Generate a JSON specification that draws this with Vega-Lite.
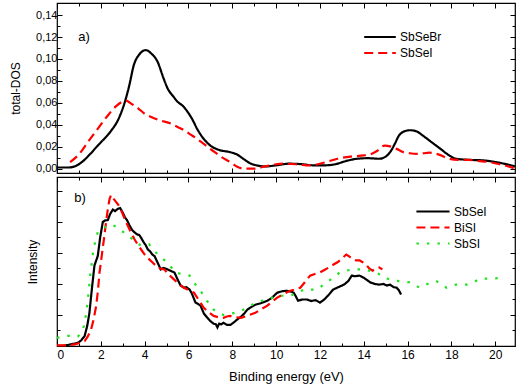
{
 "$schema": "https://vega.github.io/schema/vega-lite/v6.json",
 "padding": {"left": 8, "top": 1, "right": 1, "bottom": 2},
 "spacing": 0,
 "resolve": {"scale": {"color": "independent", "strokeDash": "independent"}, "legend": {"color": "independent", "strokeDash": "independent"}},
 "config": {
  "font": "Liberation Sans",
  "view": {"stroke": "#000", "strokeWidth": 1.2},
  "axis": {"domain": false, "grid": false, "tickColor": "#000", "tickWidth": 1, "labelColor": "#000", "labelFontSize": 11, "titleFontSize": 12, "titleFontWeight": "normal", "titleColor": "#000"}
 },
 "datasets": {
  "top": [
   {"s":"SbSeBr","x":0,"y":0.001},{"s":"SbSeBr","x":0.5,"y":0.001},{"s":"SbSeBr","x":0.8,"y":0.002},{"s":"SbSeBr","x":1.2,"y":0.007},{"s":"SbSeBr","x":1.5,"y":0.013},{"s":"SbSeBr","x":1.86,"y":0.021},{"s":"SbSeBr","x":2.1,"y":0.026},{"s":"SbSeBr","x":2.45,"y":0.034},{"s":"SbSeBr","x":2.8,"y":0.045},{"s":"SbSeBr","x":3.1,"y":0.061},{"s":"SbSeBr","x":3.3,"y":0.076},{"s":"SbSeBr","x":3.5,"y":0.094},{"s":"SbSeBr","x":3.75,"y":0.104},{"s":"SbSeBr","x":4.05,"y":0.108},{"s":"SbSeBr","x":4.3,"y":0.105},{"s":"SbSeBr","x":4.6,"y":0.097},{"s":"SbSeBr","x":4.85,"y":0.083},{"s":"SbSeBr","x":5.05,"y":0.073},{"s":"SbSeBr","x":5.3,"y":0.066},{"s":"SbSeBr","x":5.5,"y":0.061},{"s":"SbSeBr","x":5.75,"y":0.057},{"s":"SbSeBr","x":5.95,"y":0.052},{"s":"SbSeBr","x":6.2,"y":0.044},{"s":"SbSeBr","x":6.4,"y":0.036},{"s":"SbSeBr","x":6.7,"y":0.027},{"s":"SbSeBr","x":7.0,"y":0.021},{"s":"SbSeBr","x":7.4,"y":0.017},{"s":"SbSeBr","x":7.9,"y":0.015},{"s":"SbSeBr","x":8.2,"y":0.013},{"s":"SbSeBr","x":8.5,"y":0.009},{"s":"SbSeBr","x":8.8,"y":0.005},{"s":"SbSeBr","x":9.1,"y":0.003},{"s":"SbSeBr","x":9.5,"y":0.002},{"s":"SbSeBr","x":10.0,"y":0.003},{"s":"SbSeBr","x":10.6,"y":0.0045},{"s":"SbSeBr","x":11.2,"y":0.004},{"s":"SbSeBr","x":11.7,"y":0.003},{"s":"SbSeBr","x":12.2,"y":0.003},{"s":"SbSeBr","x":12.7,"y":0.004},{"s":"SbSeBr","x":13.2,"y":0.007},{"s":"SbSeBr","x":13.7,"y":0.009},{"s":"SbSeBr","x":14.2,"y":0.0095},{"s":"SbSeBr","x":14.7,"y":0.009},{"s":"SbSeBr","x":15.0,"y":0.011},{"s":"SbSeBr","x":15.2,"y":0.015},{"s":"SbSeBr","x":15.4,"y":0.022},{"s":"SbSeBr","x":15.6,"y":0.03},{"s":"SbSeBr","x":15.85,"y":0.034},{"s":"SbSeBr","x":16.1,"y":0.035},{"s":"SbSeBr","x":16.4,"y":0.034},{"s":"SbSeBr","x":16.7,"y":0.03},{"s":"SbSeBr","x":17.1,"y":0.024},{"s":"SbSeBr","x":17.5,"y":0.018},{"s":"SbSeBr","x":17.9,"y":0.012},{"s":"SbSeBr","x":18.2,"y":0.009},{"s":"SbSeBr","x":18.8,"y":0.008},{"s":"SbSeBr","x":19.45,"y":0.0075},{"s":"SbSeBr","x":20.0,"y":0.006},{"s":"SbSeBr","x":20.4,"y":0.0045},{"s":"SbSeBr","x":20.9,"y":0.002},
   {"s":"SbSeI","x":0.6,"y":0.006},{"s":"SbSeI","x":1.0,"y":0.013},{"s":"SbSeI","x":1.4,"y":0.024},{"s":"SbSeI","x":1.85,"y":0.036},{"s":"SbSeI","x":2.3,"y":0.048},{"s":"SbSeI","x":2.7,"y":0.057},{"s":"SbSeI","x":3.15,"y":0.062},{"s":"SbSeI","x":3.4,"y":0.059},{"s":"SbSeI","x":3.7,"y":0.055},{"s":"SbSeI","x":4.0,"y":0.05},{"s":"SbSeI","x":4.3,"y":0.047},{"s":"SbSeI","x":4.7,"y":0.044},{"s":"SbSeI","x":5.2,"y":0.041},{"s":"SbSeI","x":5.5,"y":0.038},{"s":"SbSeI","x":5.8,"y":0.035},{"s":"SbSeI","x":6.1,"y":0.031},{"s":"SbSeI","x":6.4,"y":0.027},{"s":"SbSeI","x":6.8,"y":0.021},{"s":"SbSeI","x":7.2,"y":0.015},{"s":"SbSeI","x":7.55,"y":0.01},{"s":"SbSeI","x":7.9,"y":0.006},{"s":"SbSeI","x":8.2,"y":0.002},{"s":"SbSeI","x":8.5,"y":0.0},{"s":"SbSeI","x":9.0,"y":0.0},{"s":"SbSeI","x":9.5,"y":0.002},{"s":"SbSeI","x":10.0,"y":0.004},{"s":"SbSeI","x":10.4,"y":0.0045},{"s":"SbSeI","x":10.9,"y":0.004},{"s":"SbSeI","x":11.4,"y":0.003},{"s":"SbSeI","x":11.9,"y":0.004},{"s":"SbSeI","x":12.3,"y":0.006},{"s":"SbSeI","x":12.8,"y":0.009},{"s":"SbSeI","x":13.4,"y":0.011},{"s":"SbSeI","x":14.0,"y":0.012},{"s":"SbSeI","x":14.3,"y":0.013},{"s":"SbSeI","x":14.6,"y":0.016},{"s":"SbSeI","x":14.95,"y":0.021},{"s":"SbSeI","x":15.25,"y":0.02},{"s":"SbSeI","x":15.5,"y":0.018},{"s":"SbSeI","x":15.8,"y":0.015},{"s":"SbSeI","x":16.1,"y":0.014},{"s":"SbSeI","x":16.5,"y":0.0135},{"s":"SbSeI","x":17.0,"y":0.0145},{"s":"SbSeI","x":17.4,"y":0.013},{"s":"SbSeI","x":17.9,"y":0.009},{"s":"SbSeI","x":18.3,"y":0.008},{"s":"SbSeI","x":18.8,"y":0.008},{"s":"SbSeI","x":19.2,"y":0.007},{"s":"SbSeI","x":19.7,"y":0.006},{"s":"SbSeI","x":20.2,"y":0.004},{"s":"SbSeI","x":20.6,"y":0.002},{"s":"SbSeI","x":20.9,"y":0.0}
  ],
  "bot": [
   {"s":"SbSeI","x":0,"y":0},{"s":"SbSeI","x":0.35,"y":0.01},{"s":"SbSeI","x":0.6,"y":0.05},{"s":"SbSeI","x":0.95,"y":0.1},{"s":"SbSeI","x":1.1,"y":0.18},{"s":"SbSeI","x":1.26,"y":0.32},{"s":"SbSeI","x":1.38,"y":0.65},{"s":"SbSeI","x":1.48,"y":1.07},{"s":"SbSeI","x":1.6,"y":1.9},{"s":"SbSeI","x":1.71,"y":2.6},{"s":"SbSeI","x":1.86,"y":2.9},{"s":"SbSeI","x":1.97,"y":3.5},{"s":"SbSeI","x":2.09,"y":4.0},{"s":"SbSeI","x":2.2,"y":4.05},{"s":"SbSeI","x":2.32,"y":4.06},{"s":"SbSeI","x":2.42,"y":4.25},{"s":"SbSeI","x":2.55,"y":4.4},{"s":"SbSeI","x":2.65,"y":4.35},{"s":"SbSeI","x":2.77,"y":4.42},{"s":"SbSeI","x":2.88,"y":4.45},{"s":"SbSeI","x":3.0,"y":4.3},{"s":"SbSeI","x":3.1,"y":4.15},{"s":"SbSeI","x":3.2,"y":4.05},{"s":"SbSeI","x":3.3,"y":3.9},{"s":"SbSeI","x":3.42,"y":3.75},{"s":"SbSeI","x":3.53,"y":3.67},{"s":"SbSeI","x":3.65,"y":3.6},{"s":"SbSeI","x":3.75,"y":3.58},{"s":"SbSeI","x":3.83,"y":3.5},{"s":"SbSeI","x":3.95,"y":3.35},{"s":"SbSeI","x":4.05,"y":3.25},{"s":"SbSeI","x":4.14,"y":3.12},{"s":"SbSeI","x":4.25,"y":3.05},{"s":"SbSeI","x":4.35,"y":2.95},{"s":"SbSeI","x":4.45,"y":2.9},{"s":"SbSeI","x":4.55,"y":2.75},{"s":"SbSeI","x":4.65,"y":2.6},{"s":"SbSeI","x":4.73,"y":2.47},{"s":"SbSeI","x":4.85,"y":2.52},{"s":"SbSeI","x":4.95,"y":2.5},{"s":"SbSeI","x":5.05,"y":2.47},{"s":"SbSeI","x":5.2,"y":2.42},{"s":"SbSeI","x":5.36,"y":2.37},{"s":"SbSeI","x":5.5,"y":2.15},{"s":"SbSeI","x":5.64,"y":1.95},{"s":"SbSeI","x":5.8,"y":1.88},{"s":"SbSeI","x":5.9,"y":1.9},{"s":"SbSeI","x":6.05,"y":1.82},{"s":"SbSeI","x":6.15,"y":1.7},{"s":"SbSeI","x":6.32,"y":1.4},{"s":"SbSeI","x":6.45,"y":1.35},{"s":"SbSeI","x":6.55,"y":1.3},{"s":"SbSeI","x":6.7,"y":1.05},{"s":"SbSeI","x":6.86,"y":0.91},{"s":"SbSeI","x":7.0,"y":0.8},{"s":"SbSeI","x":7.15,"y":0.72},{"s":"SbSeI","x":7.25,"y":0.7},{"s":"SbSeI","x":7.32,"y":0.6},{"s":"SbSeI","x":7.4,"y":0.72},{"s":"SbSeI","x":7.5,"y":0.7},{"s":"SbSeI","x":7.6,"y":0.75},{"s":"SbSeI","x":7.75,"y":0.68},{"s":"SbSeI","x":7.91,"y":0.68},{"s":"SbSeI","x":8.05,"y":0.75},{"s":"SbSeI","x":8.2,"y":0.84},{"s":"SbSeI","x":8.4,"y":0.95},{"s":"SbSeI","x":8.55,"y":1.05},{"s":"SbSeI","x":8.68,"y":1.17},{"s":"SbSeI","x":8.85,"y":1.25},{"s":"SbSeI","x":9.05,"y":1.33},{"s":"SbSeI","x":9.3,"y":1.38},{"s":"SbSeI","x":9.6,"y":1.46},{"s":"SbSeI","x":9.8,"y":1.55},{"s":"SbSeI","x":10.05,"y":1.72},{"s":"SbSeI","x":10.3,"y":1.77},{"s":"SbSeI","x":10.5,"y":1.78},{"s":"SbSeI","x":10.7,"y":1.75},{"s":"SbSeI","x":10.8,"y":1.72},{"s":"SbSeI","x":10.9,"y":1.6},{"s":"SbSeI","x":11.0,"y":1.46},{"s":"SbSeI","x":11.2,"y":1.5},{"s":"SbSeI","x":11.4,"y":1.5},{"s":"SbSeI","x":11.6,"y":1.45},{"s":"SbSeI","x":11.8,"y":1.48},{"s":"SbSeI","x":12.0,"y":1.4},{"s":"SbSeI","x":12.1,"y":1.45},{"s":"SbSeI","x":12.2,"y":1.5},{"s":"SbSeI","x":12.4,"y":1.65},{"s":"SbSeI","x":12.6,"y":1.82},{"s":"SbSeI","x":12.85,"y":1.9},{"s":"SbSeI","x":13.1,"y":1.98},{"s":"SbSeI","x":13.3,"y":2.1},{"s":"SbSeI","x":13.45,"y":2.27},{"s":"SbSeI","x":13.6,"y":2.25},{"s":"SbSeI","x":13.8,"y":2.27},{"s":"SbSeI","x":14.0,"y":2.2},{"s":"SbSeI","x":14.3,"y":2.05},{"s":"SbSeI","x":14.5,"y":2.0},{"s":"SbSeI","x":14.7,"y":1.98},{"s":"SbSeI","x":14.9,"y":2.0},{"s":"SbSeI","x":15.05,"y":1.95},{"s":"SbSeI","x":15.2,"y":1.98},{"s":"SbSeI","x":15.35,"y":1.9},{"s":"SbSeI","x":15.5,"y":1.88},{"s":"SbSeI","x":15.6,"y":1.8},{"s":"SbSeI","x":15.7,"y":1.66},
   {"s":"BiSI","x":0,"y":0.02},{"s":"BiSI","x":0.4,"y":0.02},{"s":"BiSI","x":0.8,"y":0.05},{"s":"BiSI","x":1.05,"y":0.1},{"s":"BiSI","x":1.26,"y":0.16},{"s":"BiSI","x":1.4,"y":0.3},{"s":"BiSI","x":1.55,"y":0.52},{"s":"BiSI","x":1.67,"y":0.85},{"s":"BiSI","x":1.79,"y":1.3},{"s":"BiSI","x":1.87,"y":1.8},{"s":"BiSI","x":1.94,"y":2.37},{"s":"BiSI","x":2.04,"y":2.9},{"s":"BiSI","x":2.14,"y":3.44},{"s":"BiSI","x":2.23,"y":3.95},{"s":"BiSI","x":2.32,"y":4.42},{"s":"BiSI","x":2.4,"y":4.75},{"s":"BiSI","x":2.47,"y":4.87},{"s":"BiSI","x":2.58,"y":4.75},{"s":"BiSI","x":2.7,"y":4.64},{"s":"BiSI","x":2.8,"y":4.55},{"s":"BiSI","x":2.9,"y":4.42},{"s":"BiSI","x":3.03,"y":4.2},{"s":"BiSI","x":3.15,"y":4.0},{"s":"BiSI","x":3.35,"y":3.7},{"s":"BiSI","x":3.53,"y":3.45},{"s":"BiSI","x":3.7,"y":3.25},{"s":"BiSI","x":3.83,"y":3.12},{"s":"BiSI","x":4.0,"y":2.95},{"s":"BiSI","x":4.2,"y":2.8},{"s":"BiSI","x":4.35,"y":2.7},{"s":"BiSI","x":4.5,"y":2.6},{"s":"BiSI","x":4.7,"y":2.5},{"s":"BiSI","x":4.9,"y":2.47},{"s":"BiSI","x":5.1,"y":2.3},{"s":"BiSI","x":5.35,"y":2.14},{"s":"BiSI","x":5.55,"y":2.0},{"s":"BiSI","x":5.8,"y":1.88},{"s":"BiSI","x":6.0,"y":1.8},{"s":"BiSI","x":6.25,"y":1.72},{"s":"BiSI","x":6.45,"y":1.5},{"s":"BiSI","x":6.7,"y":1.23},{"s":"BiSI","x":6.9,"y":1.1},{"s":"BiSI","x":7.15,"y":0.97},{"s":"BiSI","x":7.4,"y":0.92},{"s":"BiSI","x":7.6,"y":0.91},{"s":"BiSI","x":7.75,"y":0.95},{"s":"BiSI","x":7.9,"y":0.97},{"s":"BiSI","x":8.15,"y":0.93},{"s":"BiSI","x":8.4,"y":0.91},{"s":"BiSI","x":8.7,"y":0.98},{"s":"BiSI","x":9.05,"y":1.07},{"s":"BiSI","x":9.3,"y":1.18},{"s":"BiSI","x":9.6,"y":1.3},{"s":"BiSI","x":9.8,"y":1.42},{"s":"BiSI","x":10.05,"y":1.56},{"s":"BiSI","x":10.35,"y":1.68},{"s":"BiSI","x":10.65,"y":1.78},{"s":"BiSI","x":10.9,"y":1.83},{"s":"BiSI","x":11.1,"y":1.88},{"s":"BiSI","x":11.3,"y":2.05},{"s":"BiSI","x":11.55,"y":2.27},{"s":"BiSI","x":11.8,"y":2.33},{"s":"BiSI","x":12.0,"y":2.37},{"s":"BiSI","x":12.2,"y":2.45},{"s":"BiSI","x":12.4,"y":2.53},{"s":"BiSI","x":12.6,"y":2.62},{"s":"BiSI","x":12.8,"y":2.7},{"s":"BiSI","x":13.0,"y":2.82},{"s":"BiSI","x":13.2,"y":2.95},{"s":"BiSI","x":13.35,"y":2.88},{"s":"BiSI","x":13.5,"y":2.8},{"s":"BiSI","x":13.65,"y":2.76},{"s":"BiSI","x":13.8,"y":2.76},{"s":"BiSI","x":13.95,"y":2.7},{"s":"BiSI","x":14.1,"y":2.63},{"s":"BiSI","x":14.25,"y":2.5},{"s":"BiSI","x":14.4,"y":2.43},{"s":"BiSI","x":14.55,"y":2.5},{"s":"BiSI","x":14.7,"y":2.53},{"s":"BiSI","x":14.85,"y":2.47},
   {"s":"SbSI","x":0.0,"y":0.26},{"s":"SbSI","x":0.25,"y":0.3},{"s":"SbSI","x":0.5,"y":0.33},{"s":"SbSI","x":0.75,"y":0.32},{"s":"SbSI","x":0.95,"y":0.3},{"s":"SbSI","x":1.1,"y":0.42},{"s":"SbSI","x":1.23,"y":0.65},{"s":"SbSI","x":1.32,"y":1.0},{"s":"SbSI","x":1.41,"y":1.5},{"s":"SbSI","x":1.52,"y":2.3},{"s":"SbSI","x":1.64,"y":3.0},{"s":"SbSI","x":1.75,"y":3.4},{"s":"SbSI","x":1.86,"y":3.67},{"s":"SbSI","x":2.0,"y":3.75},{"s":"SbSI","x":2.09,"y":3.77},{"s":"SbSI","x":2.25,"y":3.85},{"s":"SbSI","x":2.4,"y":3.93},{"s":"SbSI","x":2.6,"y":3.88},{"s":"SbSI","x":2.77,"y":3.83},{"s":"SbSI","x":2.95,"y":3.72},{"s":"SbSI","x":3.15,"y":3.6},{"s":"SbSI","x":3.35,"y":3.5},{"s":"SbSI","x":3.53,"y":3.4},{"s":"SbSI","x":3.7,"y":3.3},{"s":"SbSI","x":3.83,"y":3.24},{"s":"SbSI","x":4.0,"y":3.25},{"s":"SbSI","x":4.2,"y":3.28},{"s":"SbSI","x":4.4,"y":3.1},{"s":"SbSI","x":4.6,"y":2.95},{"s":"SbSI","x":4.8,"y":2.83},{"s":"SbSI","x":4.97,"y":2.73},{"s":"SbSI","x":5.2,"y":2.55},{"s":"SbSI","x":5.4,"y":2.37},{"s":"SbSI","x":5.7,"y":2.32},{"s":"SbSI","x":6.05,"y":2.27},{"s":"SbSI","x":6.3,"y":2.0},{"s":"SbSI","x":6.55,"y":1.78},{"s":"SbSI","x":6.85,"y":1.45},{"s":"SbSI","x":7.15,"y":1.17},{"s":"SbSI","x":7.4,"y":1.06},{"s":"SbSI","x":7.6,"y":1.0},{"s":"SbSI","x":7.85,"y":1.03},{"s":"SbSI","x":8.1,"y":1.07},{"s":"SbSI","x":8.3,"y":1.1},{"s":"SbSI","x":8.5,"y":1.17},{"s":"SbSI","x":8.8,"y":1.28},{"s":"SbSI","x":9.05,"y":1.4},{"s":"SbSI","x":9.3,"y":1.45},{"s":"SbSI","x":9.6,"y":1.5},{"s":"SbSI","x":10.05,"y":1.62},{"s":"SbSI","x":10.35,"y":1.62},{"s":"SbSI","x":10.65,"y":1.62},{"s":"SbSI","x":10.95,"y":1.72},{"s":"SbSI","x":11.27,"y":1.82},{"s":"SbSI","x":11.55,"y":1.82},{"s":"SbSI","x":11.86,"y":1.82},{"s":"SbSI","x":12.3,"y":2.05},{"s":"SbSI","x":12.6,"y":2.2},{"s":"SbSI","x":12.9,"y":2.37},{"s":"SbSI","x":13.2,"y":2.43},{"s":"SbSI","x":13.5,"y":2.47},{"s":"SbSI","x":14.0,"y":2.47},{"s":"SbSI","x":14.3,"y":2.42},{"s":"SbSI","x":14.6,"y":2.37},{"s":"SbSI","x":14.9,"y":2.2},{"s":"SbSI","x":15.2,"y":2.15},{"s":"SbSI","x":15.5,"y":2.1},{"s":"SbSI","x":15.8,"y":2.08},{"s":"SbSI","x":16.1,"y":2.05},{"s":"SbSI","x":16.55,"y":1.88},{"s":"SbSI","x":16.9,"y":2.0},{"s":"SbSI","x":17.3,"y":2.1},{"s":"SbSI","x":17.77,"y":1.88},{"s":"SbSI","x":18.2,"y":1.98},{"s":"SbSI","x":18.7,"y":1.98},{"s":"SbSI","x":19.0,"y":2.05},{"s":"SbSI","x":19.3,"y":2.17},{"s":"SbSI","x":19.7,"y":2.17},{"s":"SbSI","x":20.0,"y":2.18},{"s":"SbSI","x":20.3,"y":2.2}
  ]
 },
 "vconcat": [
  {
   "width": 458, "height": 170,
   "layer": [
    {
     "data": {"name": "top"},
     "mark": {"type": "line", "interpolate": "monotone", "strokeWidth": 2.2},
     "encoding": {
      "x": {"field": "x", "type": "quantitative", "scale": {"domain": [0, 20.9], "nice": false, "zero": false},
            "axis": {"orient": "bottom", "values": [0,1,2,3,4,5,6,7,8,9,10,11,12,13,14,15,16,17,18,19,20], "labels": false, "title": null,
                     "tickSize": {"condition": {"test": "datum.value % 2 == 1", "value": -3}, "value": -5}}},
      "y": {"field": "y", "type": "quantitative", "scale": {"domain": [-0.004, 0.151], "nice": false, "zero": false},
            "axis": {"orient": "left", "values": [0,0.01,0.02,0.03,0.04,0.05,0.06,0.07,0.08,0.09,0.1,0.11,0.12,0.13,0.14],
                     "labelExpr": "round(datum.value*100) % 2 == 0 ? replace(format(datum.value, '.2f'), '.', ',') : ''",
                     "tickSize": {"condition": {"test": "round(datum.value*100) % 2 == 1", "value": -3}, "value": -5},
                     "labelPadding": 5, "title": "total-DOS", "titlePadding": 13}},
      "color": {"field": "s", "type": "nominal", "scale": {"domain": ["SbSeBr", "SbSeI"], "range": ["#000000", "#ff0000"]},
                "legend": {"title": null, "orient": "none", "legendX": 306, "legendY": 28, "symbolType": "M-1,0H1", "symbolSize": 1000, "symbolStrokeWidth": 2.2, "labelFontSize": 12, "labelOffset": 3, "rowPadding": 4, "clipHeight": 12, "padding": 0, "labelColor": "#000"}},
      "strokeDash": {"field": "s", "type": "nominal", "scale": {"domain": ["SbSeBr", "SbSeI"], "range": [[1, 0], [9, 5]]},
                "legend": {"title": null, "orient": "none", "legendX": 306, "legendY": 28, "symbolType": "M-1,0H1", "symbolSize": 1000, "symbolStrokeWidth": 2.2, "labelFontSize": 12, "labelOffset": 3, "rowPadding": 4, "clipHeight": 12, "padding": 0, "labelColor": "#000"}}
     }
    },
    {
     "data": {"values": [{"x": 1.23, "y": 0.12, "t": "a)"}]},
     "mark": {"type": "text", "fontSize": 13, "color": "#000"},
     "encoding": {
      "x": {"field": "x", "type": "quantitative", "axis": {"orient": "top", "values": [0,1,2,3,4,5,6,7,8,9,10,11,12,13,14,15,16,17,18,19,20], "labels": false, "title": null,
            "tickSize": {"condition": {"test": "datum.value % 2 == 1", "value": -3}, "value": -5}}},
      "y": {"field": "y", "type": "quantitative", "axis": {"orient": "right", "values": [0,0.01,0.02,0.03,0.04,0.05,0.06,0.07,0.08,0.09,0.1,0.11,0.12,0.13,0.14], "labels": false, "title": null,
            "tickSize": {"condition": {"test": "round(datum.value*100) % 2 == 1", "value": -3}, "value": -5}}},
      "text": {"field": "t"}
     }
    }
   ],
   "resolve": {"axis": {"x": "independent", "y": "independent"}}
  },
  {
   "width": 458, "height": 169,
   "layer": [
    {
     "data": {"name": "bot"},
     "mark": {"type": "line", "strokeWidth": 2.2},
     "encoding": {
      "x": {"field": "x", "type": "quantitative", "scale": {"domain": [0, 20.9], "nice": false, "zero": false},
            "axis": {"orient": "bottom", "values": [0,1,2,3,4,5,6,7,8,9,10,11,12,13,14,15,16,17,18,19,20],
                     "labelExpr": "datum.value % 2 == 0 ? datum.label : ''", "labelFontSize": 12, "labelPadding": 8,
                     "title": "Binding energy (eV)", "titleFontSize": 13, "titlePadding": 10,
                     "tickSize": {"condition": {"test": "datum.value % 2 == 1", "value": -3}, "value": -5}}},
      "y": {"field": "y", "type": "quantitative", "scale": {"domain": [0, 5.45], "nice": false, "zero": false},
            "axis": {"orient": "left", "values": [0,0.5,1,1.5,2,2.5,3,3.5,4,4.5,5], "labels": false,
                     "tickSize": {"condition": {"test": "datum.value % 1 != 0", "value": -3}, "value": -5},
                     "title": "Intensity", "titlePadding": 17}},
      "color": {"field": "s", "type": "nominal", "scale": {"domain": ["SbSeI", "BiSI", "SbSI"], "range": ["#000000", "#ff0000", "#22e022"]},
                "legend": {"title": null, "orient": "none", "legendX": 358, "legendY": 28, "symbolType": "M-1,0H1", "symbolSize": 1100, "symbolStrokeWidth": 2.2, "labelFontSize": 12, "labelOffset": 3, "rowPadding": 3, "clipHeight": 13, "padding": 0, "labelColor": "#000"}},
      "strokeDash": {"field": "s", "type": "nominal", "scale": {"domain": ["SbSeI", "BiSI", "SbSI"], "range": [[1, 0], [9, 5], [2.5, 8]]},
                "legend": {"title": null, "orient": "none", "legendX": 358, "legendY": 28, "symbolType": "M-1,0H1", "symbolSize": 1100, "symbolStrokeWidth": 2.2, "labelFontSize": 12, "labelOffset": 3, "rowPadding": 3, "clipHeight": 13, "padding": 0, "labelColor": "#000"}}
     }
    },
    {
     "data": {"values": [{"x": 1.05, "y": 4.77, "t": "b)"}]},
     "mark": {"type": "text", "fontSize": 13, "color": "#000"},
     "encoding": {
      "x": {"field": "x", "type": "quantitative", "axis": {"orient": "top", "values": [0,1,2,3,4,5,6,7,8,9,10,11,12,13,14,15,16,17,18,19,20], "labels": false, "title": null,
            "tickSize": {"condition": {"test": "datum.value % 2 == 1", "value": -3}, "value": -5}}},
      "y": {"field": "y", "type": "quantitative", "axis": {"orient": "right", "values": [0,0.5,1,1.5,2,2.5,3,3.5,4,4.5,5], "labels": false, "title": null,
            "tickSize": {"condition": {"test": "datum.value % 1 != 0", "value": -3}, "value": -5}}},
      "text": {"field": "t"}
     }
    }
   ],
   "resolve": {"axis": {"x": "independent", "y": "independent"}}
  }
 ]
}
